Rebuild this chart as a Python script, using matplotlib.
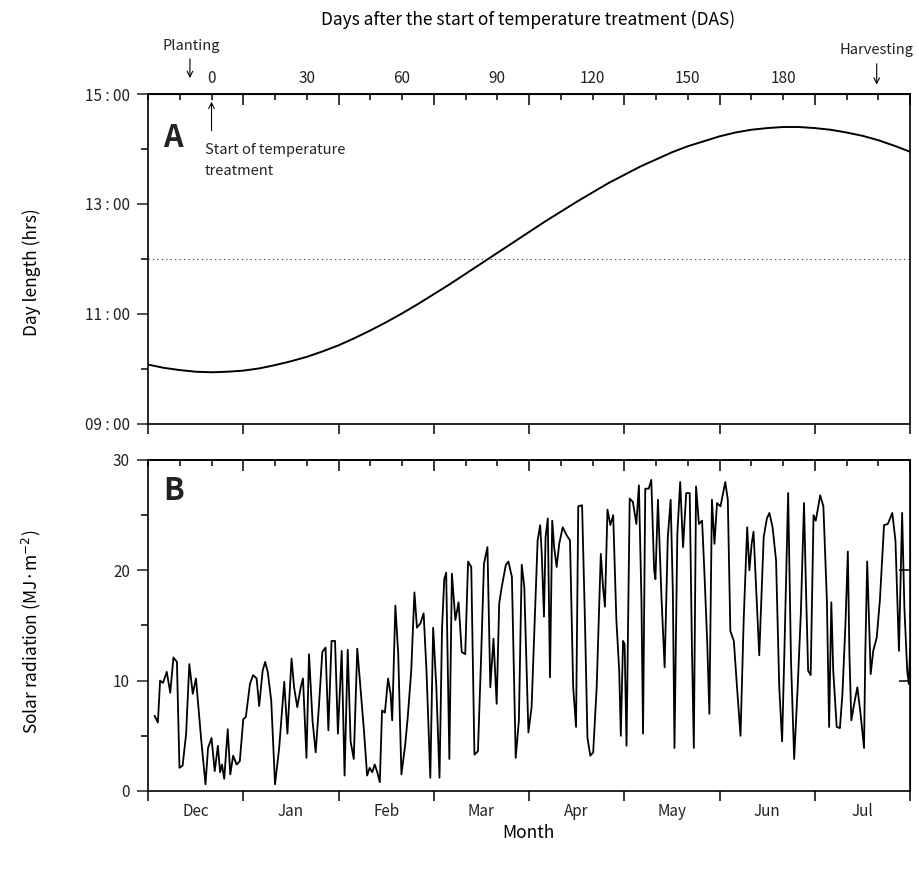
import matplotlib
matplotlib.use('Agg')
import matplotlib.pyplot as plt
from matplotlib.ticker import FixedLocator, NullFormatter

plt.rcParams['font.family'] = ['Noto Sans CJK KR', 'DejaVu Sans']

# day length (hours), read every 5 days after start of treatment
dl_das = list(range(-20, 221, 5))
dl_hrs = [10.08, 10.02, 9.98, 9.95, 9.94, 9.95, 9.97, 10.01, 10.07, 10.14,
          10.22, 10.32, 10.43, 10.56, 10.70, 10.85, 11.01, 11.18, 11.36, 11.54,
          11.73, 11.92, 12.11, 12.30, 12.49, 12.68, 12.86, 13.04, 13.21, 13.38,
          13.53, 13.68, 13.81, 13.94, 14.05, 14.14, 14.23, 14.30, 14.35, 14.38,
          14.40, 14.40, 14.38, 14.35, 14.30, 14.24, 14.16, 14.06, 13.95]

# daily solar radiation (MJ m-2), vertices
rad_das = [-17.9, -16.9, -16.2, -15.3, -14.8, -14.1, -13.0, -12.0, -10.9, -10.1,
           -9.1, -8.0, -7.0, -5.9, -4.9, -3.3, -1.9, -1.1, 0.0, 1.0,
           2.0, 2.7, 3.3, 4.0, 5.1, 5.9, 6.8, 7.9, 8.9, 10.0,
           10.8, 12.1, 13.1, 14.2, 15.0, 16.1, 16.9, 17.7, 18.8, 20.0,
           21.3, 22.9, 23.9, 25.2, 26.0, 27.0, 28.1, 28.8, 29.9, 30.7,
           31.8, 32.8, 33.8, 34.9, 35.9, 36.8, 37.8, 38.9, 39.8,
           41.0, 41.9, 42.9, 43.8, 44.8, 45.9, 46.9, 48.0, 49.0, 49.8,
           50.6, 51.4, 52.2, 53.0, 53.7, 54.6, 55.6, 56.4, 56.9, 57.9,
           58.8, 59.8, 61.0, 61.8, 62.9, 63.9, 64.7, 65.8, 66.8, 67.7,
           68.9, 69.8, 70.8, 71.8, 72.6, 73.3, 73.9, 74.9, 75.7, 76.8,
           77.8, 78.8, 79.9, 80.8, 81.8, 82.8, 83.9, 84.9, 85.8, 86.9,
           87.8, 88.8, 89.8, 90.6, 91.4, 92.7, 93.5, 94.6, 95.8, 96.8,
           97.7, 98.5, 99.8, 100.8, 102.7, 103.5, 104.0, 104.7, 105.2, 105.9,
           106.6, 107.3, 107.9, 108.7, 109.5, 110.6, 111.8, 112.9, 113.9, 114.8,
           115.5, 116.7, 117.6, 118.4, 119.3, 120.2, 121.3, 122.6, 123.3, 123.9,
           124.7, 125.6, 126.5, 127.5, 128.4, 128.9, 129.6, 130.1, 130.7, 131.7,
           132.7, 133.8, 134.6, 135.4, 135.9, 136.6, 137.7, 138.5, 139.4, 139.8,
           140.6, 141.7, 142.7, 143.7, 144.6, 145.3, 145.8, 146.7, 147.6, 148.5,
           149.5, 150.6, 151.3, 151.9, 152.6, 153.5, 154.5, 155.2, 156.1, 156.8,
           157.6, 158.4, 159.2, 160.3, 161.8, 162.6, 163.4, 164.5, 165.5, 166.6,
           167.6, 168.7, 169.4, 170.1, 170.7, 171.5, 172.5, 173.9, 174.9, 175.7,
           176.7, 177.8, 178.8, 179.7, 180.4, 181.6, 182.5, 183.5, 184.6, 185.6,
           186.6, 187.2, 187.9, 188.7, 189.6, 190.3, 191.7, 192.7, 193.8, 194.5,
           195.2, 195.8, 196.9, 197.9, 198.7, 199.7, 200.4, 200.9, 201.5, 202.4,
           203.4, 204.4, 205.5, 205.9, 206.5, 207.6, 208.4, 209.5, 210.5, 211.8,
           213.0, 214.4, 215.4, 216.5, 217.5, 218.2, 219.1, 219.6, 220.0]
rad_val = [6.8, 6.2, 10.0, 9.8, 10.2, 10.8, 8.9, 12.1, 11.7, 2.1,
           2.3, 5.2, 11.5, 8.8, 10.2, 4.8, 0.6, 3.9, 4.8, 1.8,
           4.1, 1.7, 2.4, 1.1, 5.6, 1.5, 3.2, 2.4, 2.7, 6.5,
           6.7, 9.7, 10.5, 10.2, 7.7, 10.9, 11.7, 10.8, 8.2, 0.6,
           3.9, 9.9, 5.2, 12.0, 9.4, 7.6, 9.4, 10.2, 3.0, 12.4,
           6.4, 3.5, 7.6, 12.6, 13.0, 5.5, 13.6, 13.6, 5.2,
           12.7, 1.4, 12.8, 4.5, 2.9, 12.9, 9.4, 5.5, 1.4, 2.1,
           1.7, 2.4, 1.7, 0.8, 7.3, 7.1, 10.2, 8.8, 6.4, 16.8,
           12.4, 1.5, 4.2, 6.7, 10.9, 18.0, 14.8, 15.2, 16.1, 10.9,
           1.2, 14.8, 9.4, 1.2, 14.8, 19.2, 19.8, 2.9, 19.7, 15.5,
           17.1, 12.6, 12.4, 20.8, 20.3, 3.3, 3.6, 12.1, 20.6, 22.1,
           9.4, 13.8, 7.9, 17.0, 18.5, 20.5, 20.8, 19.4, 3.0, 6.4,
           20.5, 18.5, 5.3, 7.6, 22.7, 24.1, 21.5, 15.8, 23.0, 24.7,
           10.3, 24.5, 22.1, 20.3, 22.4, 23.9, 23.2, 22.7, 9.4, 5.8,
           25.8, 25.9, 15.5, 4.8, 3.2, 3.5, 9.4, 21.5, 18.5, 16.7,
           25.5, 24.1, 25.0, 15.5, 10.9, 5.0, 13.6, 13.3, 4.1, 26.5,
           26.2, 24.2, 27.7, 17.3, 5.2, 27.4, 27.4, 28.2, 20.0, 19.2,
           26.4, 17.6, 11.2, 23.0, 26.4, 17.9, 3.9, 23.3, 28.0, 22.1,
           27.0, 27.0, 13.0, 3.9, 27.6, 24.2, 24.5, 20.0, 13.6, 7.0,
           26.4, 22.4, 26.1, 25.8, 28.0, 26.4, 14.5, 13.6, 9.4, 5.0,
           15.5, 23.9, 20.0, 22.4, 23.5, 18.5, 12.3, 23.0, 24.7, 25.2,
           23.9, 20.9, 9.4, 4.5, 12.4, 27.0, 11.8, 2.9, 9.4, 16.1,
           26.1, 18.5, 10.9, 10.5, 25.0, 24.5, 26.8, 25.8, 17.3, 5.8,
           17.1, 10.9, 5.8, 5.7, 8.8, 15.5, 21.7, 12.4, 6.4, 7.9,
           9.4, 7.0, 3.9, 12.4, 20.8, 10.6, 12.7, 13.9, 17.3, 24.1,
           24.2, 25.2, 22.7, 12.7, 25.2, 16.7, 10.9, 9.7, 12.7]

months = ['Dec', 'Jan', 'Feb', 'Mar', 'Apr', 'May', 'Jun', 'Jul']
month_centers = [-5, 25, 55, 85, 115, 145, 175, 205]
month_edges = [-20, 10, 40, 70, 100, 130, 160, 190, 220]
das_labels = [0, 30, 60, 90, 120, 150, 180]
ten_days = list(range(-20, 221, 10))
hour_ticks = [9, 11, 13, 15]
hour_labels = ['09 : 00', '11 : 00', '13 : 00', '15 : 00']

fig = plt.figure(figsize=(9.2, 8.72), dpi=100)
ax1 = fig.add_axes([0.1609, 0.5138, 0.8283, 0.3784])
ax2 = fig.add_axes([0.1609, 0.0929, 0.8283, 0.3796])

for ax in (ax1, ax2):
    ax.set_xlim(-20, 220)
    for s in ax.spines.values():
        s.set_linewidth(1.2)
    ax.xaxis.set_major_locator(FixedLocator(month_edges))
    ax.tick_params(axis='x', which='major', direction='out', length=7, width=1.1)
    ax.tick_params(axis='y', which='major', direction='out', length=8, width=1.1,
                   labelsize=11, pad=5, colors='#222222')
    ax.tick_params(axis='y', which='minor', direction='out', length=5, width=1.1)
    # inner ticks along the top edge
    top = ax.secondary_xaxis('top')
    top.xaxis.set_major_locator(FixedLocator(month_edges[1:]))
    top.xaxis.set_minor_locator(FixedLocator(ten_days))
    top.xaxis.set_major_formatter(NullFormatter())
    top.tick_params(which='major', direction='in', length=8, width=1.1)
    top.tick_params(which='minor', direction='in', length=4, width=1.1)
    top.spines['top'].set_linewidth(1.2)

# --- panel A: day length
ax1.plot(dl_das, dl_hrs, color='black', lw=1.4)
ax1.axhline(12, color='#333333', lw=0.8, ls=(0, (1, 3)))
ax1.set_ylim(9, 15)
ax1.set_yticks(hour_ticks)
ax1.set_yticklabels(hour_labels)
ax1.set_yticks([10, 12, 14], minor=True)
ax1.tick_params(axis='x', labelbottom=False)

das_ax = ax1.secondary_xaxis('top')
das_ax.set_xticks(das_labels)
das_ax.tick_params(length=0, pad=5, labelsize=11, colors='#222222')

ax1.text(0.02, 0.915, 'A', transform=ax1.transAxes, fontsize=22,
         fontweight='bold', va='top', ha='left', color='#222222')

xt = ax1.get_xaxis_transform()
ax1.annotate('', xy=(-6.8, 1.04), xytext=(-6.8, 1.115), xycoords=xt,
             textcoords=xt, arrowprops=dict(arrowstyle='->', lw=0.8,
                                            color='black'), annotation_clip=False)
ax1.text(-6.5, 1.125, 'Planting', transform=xt, ha='center', va='bottom',
         fontsize=10.5, color='#222222')
ax1.annotate('', xy=(209.5, 1.02), xytext=(209.5, 1.10), xycoords=xt,
             textcoords=xt, arrowprops=dict(arrowstyle='->', lw=0.8,
                                            color='black'), annotation_clip=False)
ax1.text(209.5, 1.112, 'Harvesting', transform=xt, ha='center', va='bottom',
         fontsize=10.5, color='#222222')
ax1.annotate('', xy=(0, 0.985), xytext=(0, 0.88), xycoords=xt,
             textcoords=xt, arrowprops=dict(arrowstyle='->', lw=0.8,
                                            color='black'), annotation_clip=False)
ax1.text(-2.2, 0.85, 'Start of temperature\ntreatment', transform=xt,
         ha='left', va='top', fontsize=10.5, color='#222222', linespacing=1.55)

# --- panel B: solar radiation
ax2.plot(rad_das, rad_val, color='black', lw=1.3)
ax2.set_ylim(0, 30)
ax2.set_yticks([0, 10, 20, 30])
ax2.set_yticks([5, 15, 25], minor=True)
ax2.set_xticklabels([], minor=False)
ax2.set_xticks(month_centers, months, minor=True)
ax2.tick_params(axis='x', which='minor', length=0, pad=9, labelsize=11,
                colors='#222222')
right = ax2.secondary_yaxis('right')
right.set_yticks([10, 20])
right.tick_params(direction='in', length=8, width=1.1, labelright=False)
ax2.text(0.02, 0.955, 'B', transform=ax2.transAxes, fontsize=22,
         fontweight='bold', va='top', ha='left', color='#222222')

fig.text(0.574, 0.977, 'Days after the start of temperature treatment (DAS)',
         ha='center', va='center', fontsize=12.5)
fig.text(0.034, 0.688, 'Day length (hrs)', rotation=90, ha='center',
         va='center', fontsize=12.5)
fig.text(0.034, 0.275, 'Solar radiation (MJ·m$^{-2}$)', rotation=90,
         ha='center', va='center', fontsize=12.5)
fig.text(0.574, 0.045, 'Month', ha='center', va='center', fontsize=12.5)

fig.savefig('out.png', dpi=100)
